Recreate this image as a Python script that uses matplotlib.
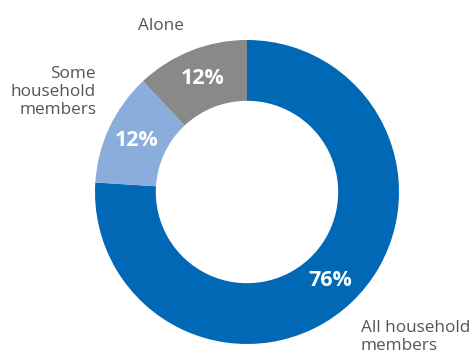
import matplotlib.pyplot as plt

shares = [76, 12, 12]
colors = ['#0068B4', '#8AADDC', '#898989']
names = ['All household\nmembers', 'Some\nhousehold\nmembers', 'Alone']

plt.rcParams['font.family'] = ['Open Sans', 'DejaVu Sans']

fig = plt.figure(figsize=(4.74, 3.54), dpi=100)
# donut sits centred at (247, 192) px with a 152 px outer radius
cx, cy, r = 247, 192, 152
ax = fig.add_axes([(cx - r) / 474, (354 - cy - r) / 354, 2 * r / 474, 2 * r / 354])

wedges, texts, autotexts = ax.pie(
    shares, colors=colors, startangle=90, counterclock=False,
    autopct='%d%%', pctdistance=0.8, radius=1,
    wedgeprops=dict(width=0.4, linewidth=0),
    textprops=dict(color='white', fontsize=15.5, fontweight='bold'))
ax.set_xlim(-1, 1)
ax.set_ylim(-1, 1)
ax.set_aspect('equal')
ax.axis('off')


def px(x, y):
    return (x - cx) / r, (cy - y) / r


lab = dict(color='#555555', fontsize=12.3, linespacing=1.15)
ax.text(*px(361, 337), names[0], ha='left', va='center', **lab)
ax.text(*px(96, 92), names[1], ha='right', va='center', **lab)
ax.text(*px(161, 26), names[2], ha='center', va='center', **lab)

fig.savefig('out.png', dpi=100)
